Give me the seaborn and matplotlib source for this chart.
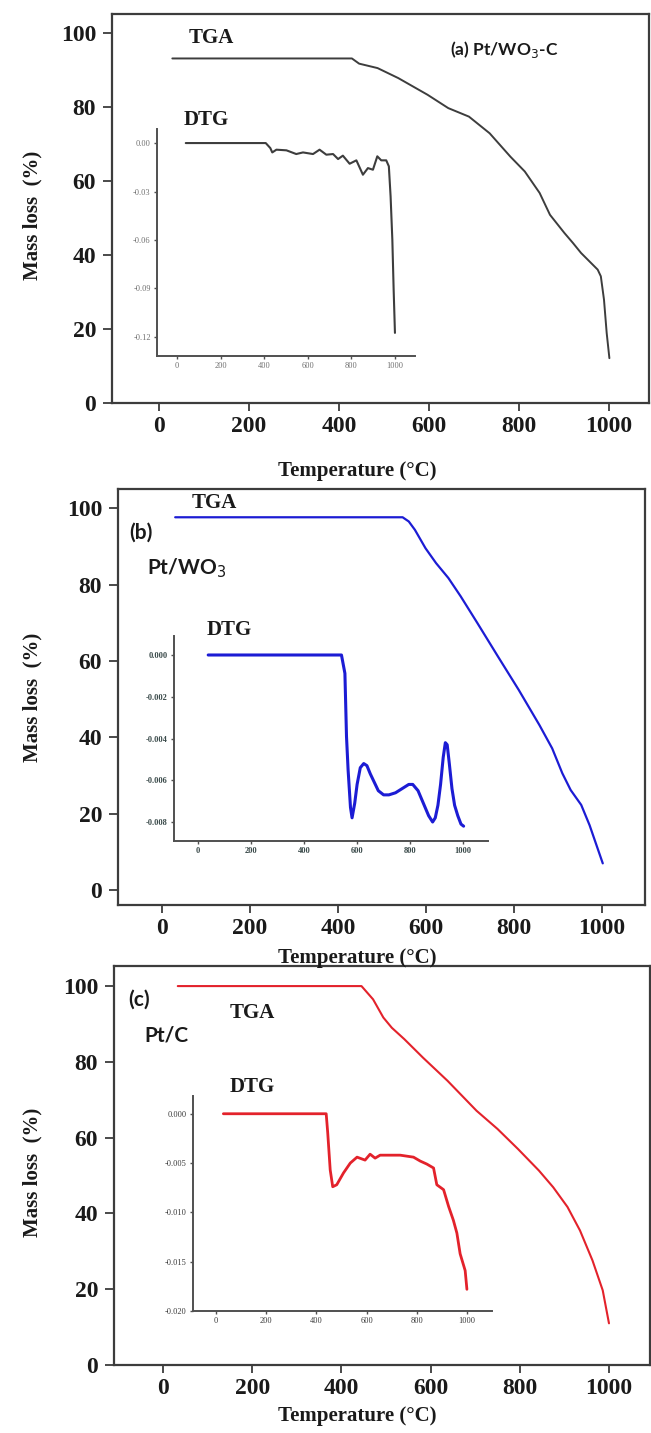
import numpy as np
import pandas as pd
import seaborn as sns
import matplotlib
matplotlib.use("Agg")
import matplotlib.pyplot as plt

# ---------------- data ----------------
tga_a_T = [30, 429, 445, 486, 532, 597, 643, 689, 735, 781, 813, 846, 869, 901, 920, 938, 975, 982, 989, 995, 1001]
tga_a_m = [93, 93, 91.6, 90.4, 87.7, 83.2, 79.6, 77.3, 72.8, 66.5, 62.5, 56.7, 50.8, 45.9, 43.2, 40.5, 36.0, 34.2, 27.9, 18.9, 12.1]

dtg_a_T = [40, 407, 428, 437, 456, 502, 547, 578, 624, 654, 685, 716, 739, 761, 792, 823, 853, 876, 899, 919, 937, 960, 972, 980, 988, 994, 1000]
dtg_a_v = [0, 0, -0.0031, -0.0058, -0.0041, -0.0045, -0.0068, -0.0058, -0.0068, -0.0041, -0.0072, -0.0068,
           -0.0099, -0.0078, -0.0128, -0.0107, -0.0196, -0.0155, -0.0165, -0.0082, -0.0107, -0.0107, -0.0144,
           -0.033, -0.0598, -0.0907, -0.1175]

tga_b_T = [30, 547, 561, 575, 599, 623, 651, 679, 717, 764, 811, 858, 887, 910, 929, 953, 972, 1002]
tga_b_m = [97.6, 97.6, 96.5, 94.3, 89.5, 85.6, 81.7, 76.9, 69.9, 61.1, 52.4, 43.2, 37.1, 30.6, 26.2, 22.3, 17.0, 7.0]

dtg_b_T = [38, 541, 554, 560, 566, 575, 581, 591, 600, 612, 625, 637, 650, 665, 680, 700, 720, 745, 770, 795,
           810, 830, 850, 870, 885, 895, 905, 915, 925, 933, 940, 948, 958, 968, 980, 992, 1002]
dtg_b_v = [0, 0, -0.00088, -0.0039, -0.0055, -0.0073, -0.0078, -0.0071, -0.0062, -0.0054, -0.0052, -0.0053,
           -0.0057, -0.0061, -0.0065, -0.0067, -0.0067, -0.0066, -0.0064, -0.0062, -0.0062, -0.0065, -0.0071,
           -0.0077, -0.0080, -0.0078, -0.0072, -0.0062, -0.0049, -0.0042, -0.0043, -0.0052, -0.0064, -0.0072,
           -0.0077, -0.0081, -0.0082]

tga_c_T = [33, 445, 471, 494, 513, 541, 583, 638, 703, 750, 796, 843, 875, 907, 935, 963, 986, 1000]
tga_c_m = [100, 100, 96.5, 91.7, 89.0, 86.0, 81.1, 75.0, 67.1, 62.3, 57.0, 51.3, 46.9, 41.7, 35.5, 27.6, 19.7, 11.0]

dtg_c_T = [29, 439, 445, 455, 465, 481, 508, 535, 562, 594, 614, 634, 654, 694, 734, 787, 814, 840, 867, 880,
           907, 927, 946, 960, 973, 993, 1000]
dtg_c_v = [0, 0, -0.0019, -0.0057, -0.0074, -0.0072, -0.006, -0.005, -0.0044, -0.0047, -0.0041, -0.0045,
           -0.0042, -0.0042, -0.0042, -0.0044, -0.0048, -0.0051, -0.0055, -0.0072, -0.0077, -0.0094, -0.0108,
           -0.0121, -0.0142, -0.0159, -0.0178]

main_xticks = [0, 200, 400, 600, 800, 1000]
main_yticks = [0, 20, 40, 60, 80, 100]
inset_xticks = [0, 200, 400, 600, 800, 1000]
inset_a_yticks = [0.0, -0.03, -0.06, -0.09, -0.12]
inset_a_ylabels = ["0.00", "-0.03", "-0.06", "-0.09", "-0.12"]
inset_b_yticks = [0.0, -0.002, -0.004, -0.006, -0.008]
inset_b_ylabels = ["0.000", "-0.002", "-0.004", "-0.006", "-0.008"]
inset_c_yticks = [0.0, -0.005, -0.010, -0.015, -0.020]
inset_c_ylabels = ["0.000", "-0.005", "-0.010", "-0.015", "-0.020"]

# ---------------- style ----------------
sns.set_theme(style="ticks")
plt.rcParams['font.family'] = ['Liberation Serif', 'DejaVu Serif']
plt.rcParams['axes.unicode_minus'] = False

W, H = 651, 1433
fig = plt.figure(figsize=(W / 100, H / 100), dpi=100)
fig.patch.set_facecolor('white')


def px_axes(left, top, right, bottom):
    return fig.add_axes([left / W, 1 - bottom / H, (right - left) / W, (bottom - top) / H])


def ftext(x, y, s, **kw):
    fig.text(x / W, 1 - y / H, s, ha='center', va='center', **kw)


def style_main(ax, xlim, ylim):
    ax.set_xlim(*xlim)
    ax.set_ylim(*ylim)
    ax.set_xticks(main_xticks)
    ax.set_yticks(main_yticks)
    ax.set_xticklabels([str(t) for t in main_xticks], fontsize=17, fontweight='bold', color='#1a1a1a')
    ax.set_yticklabels([str(t) for t in main_yticks], fontsize=17, fontweight='bold', color='#1a1a1a')
    for s in ax.spines.values():
        s.set_visible(True)
        s.set_color('#3c3c3c')
        s.set_linewidth(1.6)
    ax.tick_params(axis='x', direction='out', length=5.5, width=1.3, color='#3c3c3c', pad=4)
    ax.tick_params(axis='y', direction='out', length=6.5, width=1.3, color='#3c3c3c', pad=5)
    ax.set_xlabel('')
    ax.set_ylabel('')
    ax.set_facecolor('white')


def style_inset(ax, xlim, ylim, yticks, ylabels, color, weight, fs=6.5):
    ax.set_xlim(*xlim)
    ax.set_ylim(*ylim)
    ax.set_xticks(inset_xticks)
    ax.set_xticklabels([str(t) for t in inset_xticks], fontsize=fs, color=color, fontweight=weight)
    ax.set_yticks(yticks)
    ax.set_yticklabels(ylabels, fontsize=fs, color=color, fontweight=weight)
    ax.spines['top'].set_visible(False)
    ax.spines['right'].set_visible(False)
    for k in ['left', 'bottom']:
        ax.spines[k].set_color('#505050')
        ax.spines[k].set_linewidth(1.4)
    ax.tick_params(direction='out', length=2.5, width=1.0, color='#505050', pad=2)
    ax.set_xlabel('')
    ax.set_ylabel('')
    ax.patch.set_alpha(0)


# ---------------- panel (a) ----------------
col_a = '#3d3d3d'
ax_a = px_axes(112, 14, 649, 403)
sns.lineplot(x=tga_a_T, y=tga_a_m, ax=ax_a, color=col_a, lw=1.4)
style_main(ax_a, (-104, 1089), (0, 105))

in_a = px_axes(157, 129, 415, 356)
sns.lineplot(x=dtg_a_T, y=dtg_a_v, ax=in_a, color=col_a, lw=1.5)
style_inset(in_a, (-92, 1092), (-0.1318, 0.0087), inset_a_yticks, inset_a_ylabels, '#707070', 'normal', fs=6)

ftext(211, 38, 'TGA', fontsize=15, fontweight='bold', color='#1a1a1a')
ftext(206, 120, 'DTG', fontsize=15, fontweight='bold', color='#1a1a1a')
ftext(504, 50, '(a) Pt/WO$_3$-C', fontsize=12.5, fontweight='bold', color='#1a1a1a',
      family=['Lato', 'DejaVu Sans'])
ftext(32, 215, 'Mass loss  (%)', fontsize=15, fontweight='bold', rotation=90, color='#1a1a1a')
ftext(357, 471, 'Temperature (°C)', fontsize=15, fontweight='bold', color='#1a1a1a')

# ---------------- panel (b) ----------------
col_b = '#1c1cd4'
ax_b = px_axes(118, 489, 645, 905)
sns.lineplot(x=tga_b_T, y=tga_b_m, ax=ax_b, color=col_b, lw=1.6)
style_main(ax_b, (-100, 1098), (-3.9, 105))

in_b = px_axes(174, 636, 488, 841)
sns.lineplot(x=dtg_b_T, y=dtg_b_v, ax=in_b, color=col_b, lw=2.2)
style_inset(in_b, (-91, 1094), (-0.00891, 0.00091), inset_b_yticks, inset_b_ylabels, '#3a4a4a', 'bold', fs=6)

ftext(214, 503, 'TGA', fontsize=15, fontweight='bold', color='#1a1a1a')
ftext(229, 630, 'DTG', fontsize=15, fontweight='bold', color='#1a1a1a')
ftext(141, 533, '(b)', fontsize=15, fontweight='bold', color='#1a1a1a', family=['Lato', 'DejaVu Sans'])
ftext(187, 568, 'Pt/WO$_3$', fontsize=15, fontweight='bold', color='#1a1a1a', family=['Lato', 'DejaVu Sans'])
ftext(32, 697, 'Mass loss  (%)', fontsize=15, fontweight='bold', rotation=90, color='#1a1a1a')
ftext(357, 958, 'Temperature (°C)', fontsize=15, fontweight='bold', color='#1a1a1a')

# ---------------- panel (c) ----------------
col_c = '#e3222b'
ax_c = px_axes(114, 966, 650, 1365)
sns.lineplot(x=tga_c_T, y=tga_c_m, ax=ax_c, color=col_c, lw=1.5)
style_main(ax_c, (-110, 1092), (0, 105.3))

in_c = px_axes(193, 1096, 492, 1311)
sns.lineplot(x=dtg_c_T, y=dtg_c_v, ax=in_c, color=col_c, lw=2.0)
style_inset(in_c, (-92, 1100), (-0.020, 0.0018), inset_c_yticks, inset_c_ylabels, '#3a3a3a', 'normal', fs=6)

ftext(252, 1013, 'TGA', fontsize=15, fontweight='bold', color='#1a1a1a')
ftext(252, 1087, 'DTG', fontsize=15, fontweight='bold', color='#1a1a1a')
ftext(139, 1000, '(c)', fontsize=15, fontweight='bold', color='#1a1a1a', family=['Lato', 'DejaVu Sans'])
ftext(166, 1035, 'Pt/C', fontsize=15, fontweight='bold', color='#1a1a1a', family=['Lato', 'DejaVu Sans'])
ftext(32, 1172, 'Mass loss  (%)', fontsize=15, fontweight='bold', rotation=90, color='#1a1a1a')
ftext(357, 1416, 'Temperature (°C)', fontsize=15, fontweight='bold', color='#1a1a1a')

fig.savefig('out.png', dpi=100, facecolor='white')
